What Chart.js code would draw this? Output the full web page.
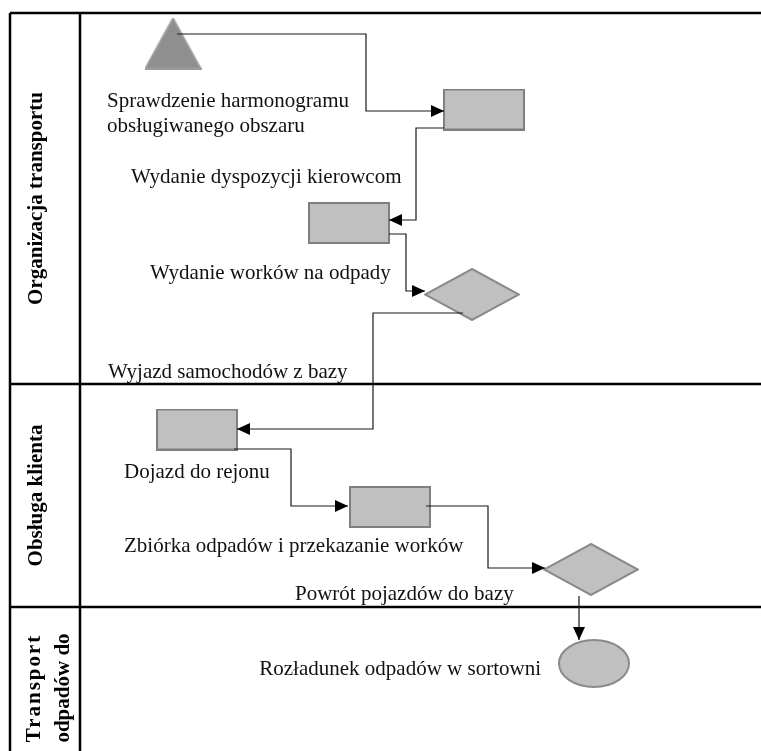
<!DOCTYPE html>
<html lang="pl">
<head>
  <meta charset="UTF-8" />
  <title>Proces odbioru odpadów</title>
  <script src="https://cdn.jsdelivr.net/npm/chart.js"></script>
  <style>
    html, body { margin: 0; padding: 0; background: #fff; }
    canvas { display: block; }
  </style>
</head>
<body>
  <canvas id="diagram" width="761" height="751"></canvas>

  <script>
    // tory (nazwa + granice w pionie)
    const laneNames = [['Organizacja transportu'], ['Obsługa klienta'], ['Transport', 'odpadów do']];
    const laneEdges = [13, 384, 607, 769];

    // węzły procesu
    const nodeShape = ['triangle', 'rect', 'rect', 'diamond', 'rect', 'rect', 'diamond', 'ellipse'];
    const nodeX = [173, 484, 349, 472, 197, 390, 591, 594];
    const nodeY = [43.5, 109.5, 223, 294.5, 429.5, 507, 569.5, 663.5];

    // opisy kroków
    const stepText = [
      'Sprawdzenie harmonogramu',
      'obsługiwanego obszaru',
      'Wydanie dyspozycji kierowcom',
      'Wydanie worków na odpady',
      'Wyjazd samochodów z bazy',
      'Dojazd do rejonu',
      'Zbiórka odpadów i przekazanie worków',
      'Powrót pojazdów do bazy',
      'Rozładunek odpadów w sortowni'
    ];
    const stepX = [107, 107, 131, 150, 108, 124, 124, 295, 541];
    const stepY = [107, 132, 183, 279, 378, 478, 552, 600, 675];
    const stepAlign = ['left', 'left', 'left', 'left', 'left', 'left', 'left', 'left', 'right'];

    // połączenia (punkty załamania, ostatni = grot strzałki)
    const links = [
      [[177, 34], [366, 34], [366, 111], [444, 111]],
      [[444, 128], [416, 128], [416, 220], [389, 220]],
      [[389, 234], [406, 234], [406, 291], [425, 291]],
      [[463, 313], [373, 313], [373, 429], [237, 429]],
      [[234, 449], [291, 449], [291, 506], [348, 506]],
      [[426, 506], [488, 506], [488, 568], [545, 568]],
      [[579, 596], [579, 640]]
    ];

    const shapeStyle = {
      triangle: { w: 57, h: 52, fill: '#8f8f8f', stroke: '#9b9b9b' },
      rect: { w: 82, h: 42, fill: '#c0c0c0', stroke: '#7f7f7f' },
      diamond: { w: 96, h: 53, fill: '#c0c0c0', stroke: '#8a8a8a' },
      ellipse: { w: 72, h: 49, fill: '#c0c0c0', stroke: '#8a8a8a' }
    };

    function rysujKsztalt(typ) {
      const s = shapeStyle[typ];
      const c = document.createElement('canvas');
      c.width = s.w;
      c.height = s.h;
      const ctx = c.getContext('2d');
      const lw = 2;
      const l = lw / 2, t = lw / 2, r = s.w - lw / 2, b = s.h - lw / 2;
      ctx.beginPath();
      if (typ === 'rect') {
        ctx.rect(l, t, r - l, b - t);
      } else if (typ === 'triangle') {
        ctx.moveTo(s.w / 2, t);
        ctx.lineTo(r, b);
        ctx.lineTo(l, b);
        ctx.closePath();
      } else if (typ === 'diamond') {
        ctx.moveTo(s.w / 2, t);
        ctx.lineTo(r, s.h / 2);
        ctx.lineTo(s.w / 2, b);
        ctx.lineTo(l, s.h / 2);
        ctx.closePath();
      } else {
        ctx.ellipse(s.w / 2, s.h / 2, (r - l) / 2, (b - t) / 2, 0, 0, Math.PI * 2);
      }
      ctx.fillStyle = s.fill;
      ctx.fill();
      ctx.lineWidth = lw;
      ctx.strokeStyle = s.stroke;
      ctx.stroke();
      return c;
    }

    const datasets = [];

    links.forEach((pts) => {
      datasets.push({
        data: pts.map(p => ({ x: p[0], y: p[1] })),
        showLine: true,
        borderColor: '#1a1a1a',
        borderWidth: 1.2,
        pointRadius: 0,
        fill: false,
        tension: 0,
        order: 1
      });
    });

    Object.keys(shapeStyle).forEach((typ) => {
      const punkty = [];
      nodeShape.forEach((s, i) => {
        if (s === typ) punkty.push({ x: nodeX[i], y: nodeY[i] });
      });
      datasets.push({
        data: punkty,
        pointStyle: rysujKsztalt(typ),
        pointRadius: 10,
        showLine: false,
        order: 2
      });
    });

    const ramaPlugin = {
      id: 'rama',
      beforeDatasetsDraw(chart) {
        const ctx = chart.ctx;
        const x = chart.scales.x, y = chart.scales.y;
        const left = x.getPixelForValue(10);
        const col = x.getPixelForValue(80);
        const right = x.getPixelForValue(761);
        ctx.save();
        ctx.strokeStyle = '#000';
        ctx.lineWidth = 2.5;
        ctx.beginPath();
        laneEdges.slice(0, -1).forEach((e) => {
          ctx.moveTo(left, y.getPixelForValue(e));
          ctx.lineTo(right, y.getPixelForValue(e));
        });
        ctx.moveTo(left, y.getPixelForValue(laneEdges[0]));
        ctx.lineTo(left, y.getPixelForValue(laneEdges[laneEdges.length - 1]));
        ctx.moveTo(col, y.getPixelForValue(laneEdges[0]));
        ctx.lineTo(col, y.getPixelForValue(laneEdges[laneEdges.length - 1]));
        ctx.stroke();

        // nazwy torów, obrócone
        ctx.fillStyle = '#000';
        ctx.font = 'bold 21px "Liberation Serif", "Times New Roman", serif';
        ctx.textAlign = 'center';
        ctx.textBaseline = 'middle';
        laneNames.forEach((linie, i) => {
          const cy = y.getPixelForValue((laneEdges[i] + laneEdges[i + 1]) / 2);
          linie.forEach((txt, j) => {
            const cx = linie.length === 1 ? x.getPixelForValue(37) : x.getPixelForValue(35 + j * 29);
            ctx.save();
            ctx.translate(cx, cy);
            ctx.rotate(-Math.PI / 2);
            ctx.letterSpacing = txt === 'Transport' ? '2px' : '0px';
            ctx.fillText(txt, 0, 0);
            ctx.restore();
          });
        });
        ctx.restore();
      },
      afterDatasetsDraw(chart) {
        const ctx = chart.ctx;
        const x = chart.scales.x, y = chart.scales.y;
        ctx.save();

        // groty strzałek
        ctx.fillStyle = '#000';
        links.forEach((pts) => {
          const a = pts[pts.length - 2], b = pts[pts.length - 1];
          const bx = x.getPixelForValue(b[0]), by = y.getPixelForValue(b[1]);
          const ax = x.getPixelForValue(a[0]), ay = y.getPixelForValue(a[1]);
          const ang = Math.atan2(by - ay, bx - ax);
          const len = 13, half = 6;
          ctx.beginPath();
          ctx.moveTo(bx, by);
          ctx.lineTo(bx - len * Math.cos(ang) - half * Math.sin(ang), by - len * Math.sin(ang) + half * Math.cos(ang));
          ctx.lineTo(bx - len * Math.cos(ang) + half * Math.sin(ang), by - len * Math.sin(ang) - half * Math.cos(ang));
          ctx.closePath();
          ctx.fill();
        });

        // opisy
        ctx.fillStyle = '#111';
        ctx.font = '21px "Liberation Serif", "Times New Roman", serif';
        ctx.textBaseline = 'alphabetic';
        stepText.forEach((txt, i) => {
          ctx.textAlign = stepAlign[i];
          ctx.fillText(txt, x.getPixelForValue(stepX[i]), y.getPixelForValue(stepY[i]));
        });
        ctx.restore();
      }
    };

    new Chart(document.getElementById('diagram').getContext('2d'), {
      type: 'scatter',
      data: { datasets: datasets },
      options: {
        responsive: false,
        animation: false,
        events: [],
        layout: { padding: 0, autoPadding: false },
        scales: {
          x: { type: 'linear', min: 0, max: 761, display: false },
          y: { type: 'linear', min: 0, max: 751, reverse: true, display: false }
        },
        plugins: {
          legend: { display: false },
          tooltip: { enabled: false }
        }
      },
      plugins: [ramaPlugin]
    });
  </script>
</body>
</html>
